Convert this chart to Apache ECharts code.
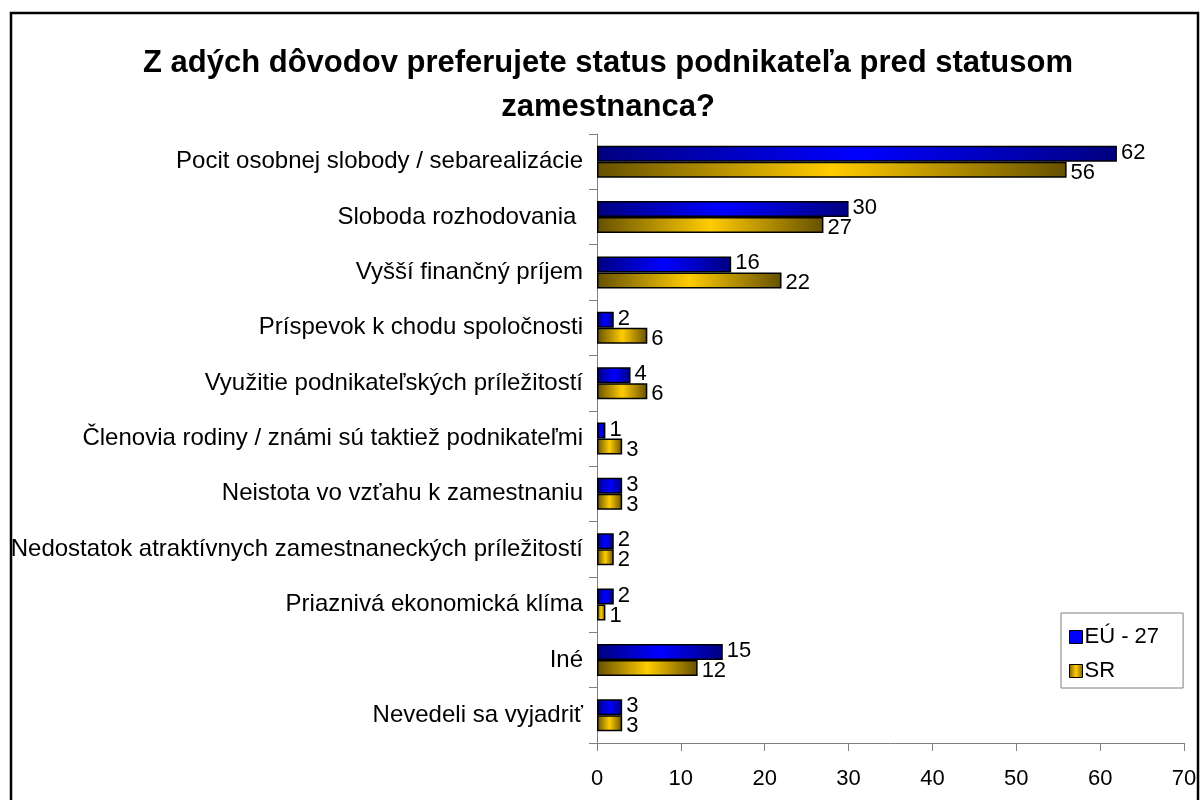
<!DOCTYPE html>
<html>
<head>
<meta charset="utf-8">
<script src="https://cdn.jsdelivr.net/npm/echarts@6/dist/echarts.min.js"></script>
<style>
  html, body { margin: 0; padding: 0; background: #fff; }
  #chart { width: 1200px; height: 800px; }
</style>
</head>
<body>
<div id="chart"></div>
<script>
// kategórie (zhora nadol)
var categories = [
    'Pocit osobnej slobody / sebarealizácie',
    'Sloboda rozhodovania ',
    'Vyšší finančný príjem',
    'Príspevok k chodu spoločnosti',
    'Využitie podnikateľských príležitostí',
    'Členovia rodiny / známi sú taktiež podnikateľmi',
    'Neistota vo vzťahu k zamestnaniu',
    'Nedostatok atraktívnych zamestnaneckých príležitostí',
    'Priaznivá ekonomická klíma',
    'Iné',
    'Nevedeli sa vyjadriť'
];
var euValues = [62, 30, 16, 2, 4, 1, 3, 2, 2, 15, 3];
var srValues = [56, 27, 22, 6, 6, 3, 3, 2, 1, 12, 3];
var xTicks = [0, 10, 20, 30, 40, 50, 60, 70];

var FONT = '"Liberation Sans", Arial, sans-serif';

function grad(dark, light) {
    return new echarts.graphic.LinearGradient(0, 0, 1, 0, [
        {offset: 0, color: dark},
        {offset: 0.5, color: light},
        {offset: 1, color: dark}
    ]);
}

var myChart = echarts.init(document.getElementById('chart'));

var option = {
    backgroundColor: '#fff',
    animation: false,
    title: {
        text: 'Z adých dôvodov preferujete status podnikateľa pred statusom\nzamestnanca?',
        left: 603,
        top: 36,
        textAlign: 'center',
        textStyle: {
            fontFamily: FONT,
            fontSize: 31,
            fontWeight: 'bold',
            color: '#000',
            lineHeight: 44
        }
    },
    legend: {
        orient: 'vertical',
        left: 1061,
        top: 613,
        padding: [13, 24, 6, 8],
        itemGap: 12,
        itemWidth: 13,
        itemHeight: 13,
        icon: 'rect',
        borderColor: '#808080',
        borderWidth: 1,
        textStyle: {fontFamily: FONT, fontSize: 22, color: '#000', padding: [0, 0, 0, -3]},
        data: [
            {name: 'EÚ - 27', itemStyle: {color: '#0000ff', borderColor: '#000', borderWidth: 1}},
            {name: 'SR', itemStyle: {color: grad('#806000', '#ffcc00'), borderColor: '#000', borderWidth: 1}}
        ]
    },
    grid: {
        left: 597,
        right: 16,
        top: 134,
        bottom: 57,
        containLabel: false
    },
    xAxis: {
        type: 'value',
        min: 0,
        max: 70,
        interval: 10,
        splitLine: {show: false},
        axisLine: {show: true, lineStyle: {color: '#808080', width: 1}},
        axisTick: {show: true, length: 8, lineStyle: {color: '#808080'}},
        axisLabel: {
            fontFamily: FONT, fontSize: 22, color: '#000', margin: 25,
            formatter: function (v) { return xTicks.indexOf(v) >= 0 ? String(v) : ''; }
        }
    },
    yAxis: {
        type: 'category',
        inverse: true,
        data: categories,
        axisLine: {show: true, lineStyle: {color: '#808080', width: 1}},
        axisTick: {show: true, length: 8, lineStyle: {color: '#808080'}},
        axisLabel: {fontFamily: FONT, fontSize: 24, color: '#000', margin: 14}
    },
    series: [
        {
            name: 'EÚ - 27',
            type: 'bar',
            data: euValues,
            barWidth: 16,
            barGap: '0%',
            itemStyle: {color: grad('#000080', '#0000ff'), borderColor: '#000', borderWidth: 1.5},
            label: {
                show: true, position: 'right', distance: 4, offset: [0, -1],
                fontFamily: FONT, fontSize: 22, color: '#000'
            }
        },
        {
            name: 'SR',
            type: 'bar',
            data: srValues,
            barWidth: 16,
            barGap: '0%',
            itemStyle: {color: grad('#665000', '#ffcc00'), borderColor: '#000', borderWidth: 1.5},
            label: {
                show: true, position: 'right', distance: 4, offset: [0, 3],
                fontFamily: FONT, fontSize: 22, color: '#000'
            }
        }
    ],
    graphic: [
        {
            type: 'rect',
            shape: {x: 11, y: 13, width: 1187, height: 800},
            style: {fill: 'none', stroke: '#000', lineWidth: 2.5},
            silent: true,
            z: 100
        }
    ]
};

myChart.setOption(option);
</script>
</body>
</html>
